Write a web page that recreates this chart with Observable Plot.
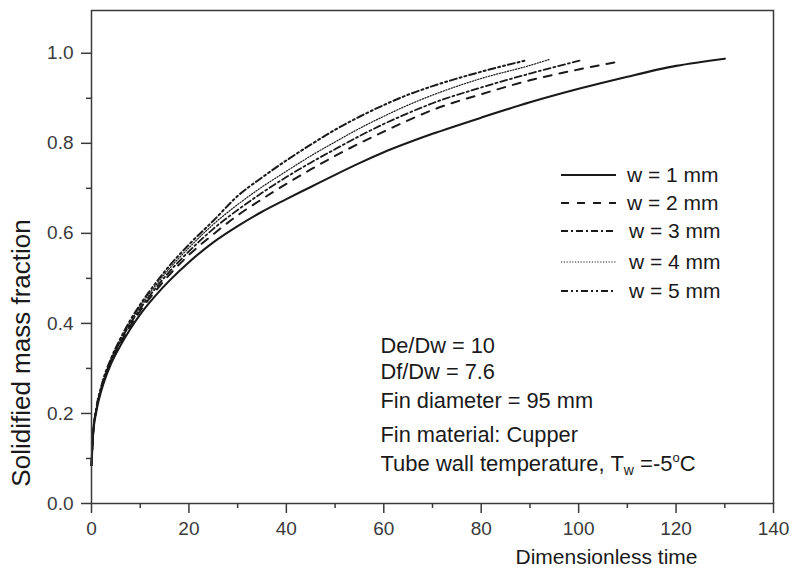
<!DOCTYPE html>
<html><head><meta charset="utf-8">
<script src="https://cdn.jsdelivr.net/npm/d3@7"></script>
<script src="https://cdn.jsdelivr.net/npm/@observablehq/plot@0.6"></script>
<style>body{margin:0;background:#fff} svg{display:block}</style>
</head><body><div id="chart"></div>
<script>
// ---- data ----
const seriesNames = ["w = 1 mm", "w = 2 mm", "w = 3 mm", "w = 4 mm", "w = 5 mm"];

const t1 = [0, 0.3, 1, 2, 4, 6, 8, 10, 13, 16, 20, 25, 30, 35, 40, 45, 50, 55, 60, 70, 80, 90, 100, 110, 120, 130];
const f1 = [0.085, 0.15, 0.205, 0.25, 0.31, 0.352, 0.388, 0.42, 0.46, 0.495, 0.536, 0.58, 0.616, 0.648, 0.676, 0.703, 0.73, 0.756, 0.78, 0.821, 0.857, 0.891, 0.921, 0.948, 0.972, 0.988];

const t2 = [0, 0.3, 1, 2, 4, 6, 8, 10, 13, 16, 20, 25, 30, 35, 40, 45, 50, 55, 60, 65, 70, 80, 90, 100, 108];
const f2 = [0.085, 0.15, 0.21, 0.255, 0.315, 0.358, 0.395, 0.428, 0.47, 0.508, 0.552, 0.598, 0.64, 0.676, 0.71, 0.742, 0.772, 0.80, 0.826, 0.851, 0.874, 0.909, 0.94, 0.964, 0.981];

const t3 = [0, 0.3, 1, 2, 4, 6, 8, 10, 13, 16, 20, 25, 30, 35, 40, 45, 50, 55, 60, 65, 70, 80, 90, 100.7];
const f3 = [0.085, 0.15, 0.21, 0.255, 0.318, 0.362, 0.40, 0.433, 0.476, 0.515, 0.56, 0.61, 0.652, 0.69, 0.725, 0.757, 0.787, 0.816, 0.843, 0.867, 0.889, 0.924, 0.955, 0.985];

const t4 = [0, 0.3, 1, 2, 4, 6, 8, 10, 13, 16, 20, 25, 30, 35, 40, 45, 50, 55, 60, 65, 70, 80, 90, 94.2];
const f4 = [0.085, 0.15, 0.21, 0.258, 0.32, 0.365, 0.404, 0.438, 0.482, 0.522, 0.568, 0.62, 0.664, 0.703, 0.738, 0.772, 0.803, 0.833, 0.86, 0.885, 0.907, 0.944, 0.973, 0.987];

const t5 = [0, 0.3, 1, 2, 4, 6, 8, 10, 13, 16, 20, 25, 30, 35, 40, 45, 50, 55, 60, 65, 70, 80, 89.1];
const f5 = [0.085, 0.15, 0.212, 0.26, 0.322, 0.368, 0.408, 0.442, 0.487, 0.528, 0.575, 0.628, 0.683, 0.724, 0.762, 0.797, 0.83, 0.859, 0.885, 0.908, 0.927, 0.959, 0.984];

const xMajorTicks = [0, 20, 40, 60, 80, 100, 120, 140];
const xMinorTicks = [10, 30, 50, 70, 90, 110, 130];
const yMajorTicks = [0, 0.2, 0.4, 0.6, 0.8, 1.0];
const yMinorTicks = [0.1, 0.3, 0.5, 0.7, 0.9];

const xLabel = "Dimensionless time";
const yLabel = "Solidified mass fraction";
const annotationLines = ["De/Dw = 10", "Df/Dw = 7.6", "Fin diameter = 95 mm", "Fin material: Cupper", "Tube wall temperature, T"];

// ---- build ----
const allT = [t1, t2, t3, t4, t5];
const allF = [f1, f2, f3, f4, f5];
const series = seriesNames.map((name, i) => allT[i].map((t, j) => ({t, f: allF[i][j], name})));

const styles = [
  {strokeWidth: 2.1, dash: null},
  {strokeWidth: 2.0, dash: "8,8"},
  {strokeWidth: 1.8, dash: "7,3,2,3"},
  {strokeWidth: 1.2, dash: "1.2,1.6"},
  {strokeWidth: 2.0, dash: "7,3,2,3,2,3"}
];
const ink = "#1a1a1a";
const axisColor = "#3a3a3a";
const font = "'Liberation Sans', Arial, sans-serif";

const marks = [];
series.forEach((d, i) => {
  marks.push(Plot.line(d, {x: "t", y: "f", stroke: ink, strokeWidth: styles[i].strokeWidth,
    strokeDasharray: styles[i].dash, curve: "monotone-x"}));
});
marks.push(Plot.frame({stroke: axisColor, strokeWidth: 1.5}));
marks.push(Plot.axisX({ticks: xMajorTicks, tickSize: 10, tickPadding: 8, fontSize: 19, label: null, color: axisColor, strokeWidth: 1.5, tickFormat: d3.format("d")}));
marks.push(Plot.axisX({ticks: xMinorTicks, tickSize: 5, label: null, color: axisColor, strokeWidth: 1.5, tickFormat: () => ""}));
marks.push(Plot.axisY({ticks: yMajorTicks, tickSize: 10, tickPadding: 8, fontSize: 19, label: null, color: axisColor, strokeWidth: 1.5, tickFormat: d3.format(".1f")}));
marks.push(Plot.axisY({ticks: yMinorTicks, tickSize: 5, label: null, color: axisColor, strokeWidth: 1.5, tickFormat: () => ""}));

// axis titles
marks.push(Plot.text([xLabel], {frameAnchor: "bottom", dx: 174, dy: 60, lineAnchor: "bottom", textAnchor: "middle", fontSize: 21, fill: ink}));
marks.push(Plot.text([yLabel], {frameAnchor: "left", dx: -70, dy: 96, rotate: -90, textAnchor: "middle", fontSize: 26, fill: ink}));

// annotation block
const annBaselines = [352, 378, 407, 441, 470];
annotationLines.forEach((line, i) => {
  marks.push(Plot.text([line], {frameAnchor: "top-left", dx: 289, dy: annBaselines[i] - 10,
    lineAnchor: "bottom", textAnchor: "start", fontSize: i === 4 ? 22 : 21.8, fill: ink}));
});

const svg = Plot.plot({
  width: 792, height: 569,
  marginLeft: 91, marginRight: 19, marginTop: 10, marginBottom: 66,
  x: {domain: [0, 140]},
  y: {domain: [0, 1.095]},
  style: {fontFamily: font, background: "#fff", color: ink},
  marks
});

// subscript / superscript in the last annotation line
d3.select(svg).selectAll("text").filter(function () { return this.textContent === annotationLines[4]; })
  .each(function () {
    const s = d3.select(this);
    s.append("tspan").attr("font-size", 14).attr("dy", 4).text("w");
    s.append("tspan").attr("dy", -4).text(" =-5");
    s.append("tspan").attr("font-size", 13).attr("dy", -9).text("o");
    s.append("tspan").attr("dy", 9).text("C");
  });

// legend
const lg = d3.select(svg).append("g").attr("font-family", font).attr("font-size", 21)
  .attr("fill", ink).attr("text-anchor", "start");
const rowY = [175, 203, 231, 262, 291];
const textX = [627, 627, 629, 629, 629];
seriesNames.forEach((name, i) => {
  lg.append("line").attr("x1", 561).attr("x2", 616).attr("y1", rowY[i]).attr("y2", rowY[i])
    .attr("stroke", ink).attr("stroke-width", styles[i].strokeWidth)
    .attr("stroke-dasharray", styles[i].dash);
  lg.append("text").attr("x", textX[i]).attr("y", rowY[i] + 7).attr("text-anchor", "start").text(name);
});

document.getElementById("chart").appendChild(svg);
</script>
</body></html>
